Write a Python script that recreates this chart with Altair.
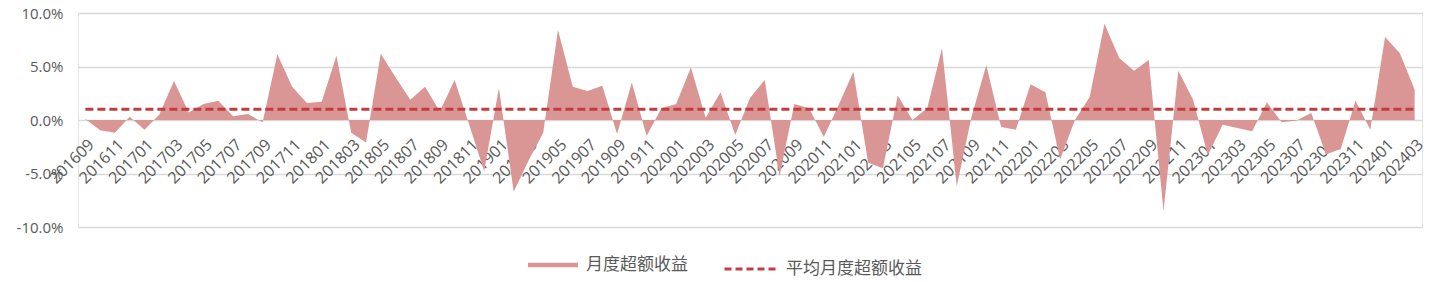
import altair as alt
import pandas as pd

# Categories: months 201609 .. 202403
all_months = [f"{y}{m:02d}" for y in range(2016, 2025) for m in range(1, 13)]
months = all_months[all_months.index("201609"): all_months.index("202403") + 1]

# Monthly excess return (%)
excess = [
    0.1, -0.95, -1.2, 0.3, -0.9, 0.5, 3.65, 0.7, 1.5, 1.8,
    0.35, 0.55, -0.2, 6.15, 3.1, 1.6, 1.7, 6.0, -1.2, -2.1,
    6.2, 4.0, 1.9, 3.1, 0.8, 3.75, -0.5, -4.8, 3.0, -6.7,
    -3.8, -1.2, 8.4, 3.1, 2.7, 3.2, -1.3, 3.5, -1.5, 1.1,
    1.5, 4.9, 0.2, 2.6, -1.4, 2.05, 3.75, -5.25, 1.5, 1.1,
    -1.6, 1.4, 4.5, -4.0, -4.5, 2.3, 0.0, 1.1, 6.7, -6.2,
    0.3, 5.15, -0.65, -0.9, 3.35, 2.6, -3.7, 0.0, 2.15, 9.0,
    5.8, 4.6, 5.6, -8.5, 4.6, 1.9, -3.3, -0.45, -0.75, -1.05,
    1.65, -0.2, -0.05, 0.65, -3.2, -2.7, 1.8, -0.9, 7.75, 6.25,
    2.85,
]
AVG = 1.0  # average monthly excess return (%)

tick_labels = months[::2]
y_ticks = [-10, -5, 0, 5, 10]

SERIES_AREA = "月度超额收益"
SERIES_LINE = "平均月度超额收益"

df = pd.DataFrame({
    "month": months,
    "excess": excess,
    "avg": [AVG] * len(months),
    "s_area": [SERIES_AREA] * len(months),
    "s_line": [SERIES_LINE] * len(months),
})

AREA_COLOR = "#D99694"
LINE_COLOR = "#C53C3C"
TEXT_COLOR = "#595959"

x_enc = alt.X(
    "month:N",
    sort=months,
    scale=alt.Scale(type="point", padding=0.5),
    axis=alt.Axis(
        values=tick_labels,
        labelAngle=-45,
        labelAlign="right",
        labelBaseline="top",
        labelPadding=16,
        labelFontSize=16,
        labelOverlap=False,
        labelBound=False,
        offset=-107,
        domain=False,
        ticks=False,
        grid=False,
        title=None,
    ),
)

y_scale = alt.Scale(domain=[-10, 10], nice=False)

area = alt.Chart(df).mark_area(strokeWidth=0, opacity=1).encode(
    x=x_enc,
    y=alt.Y(
        "excess:Q",
        scale=y_scale,
        axis=alt.Axis(
            values=y_ticks,
            labelExpr="(datum.value < 0 ? '-' : '') + format(abs(datum.value), '.1f') + '%'",
            labelPadding=15,
            ticks=False,
            domain=False,
            grid=True,
            title=None,
        ),
    ),
    y2=alt.datum(0),
    fill=alt.Fill(
        "s_area:N",
        scale=alt.Scale(domain=[SERIES_AREA], range=[AREA_COLOR]),
        legend=alt.Legend(
            title=None,
            orient="none",
            legendX=450,
            legendY=227,
            symbolType="M-1,-0.09H1V0.09H-1Z",
            symbolSize=2500,
            symbolStrokeWidth=0,
            symbolOpacity=1,
            labelOffset=8,
        ),
    ),
)

line = alt.Chart(df).mark_line(strokeDash=[8, 4], strokeWidth=3).encode(
    x=x_enc,
    y=alt.Y("avg:Q", scale=y_scale, title=None),
    stroke=alt.Stroke(
        "s_line:N",
        scale=alt.Scale(domain=[SERIES_LINE], range=[LINE_COLOR]),
        legend=alt.Legend(
            title=None,
            orient="none",
            legendX=645,
            legendY=227,
            symbolType="stroke",
            symbolSize=3025,
            symbolStrokeWidth=3,
            symbolDash=[7, 4],
            labelOffset=5,
        ),
    ),
)

chart = (
    alt.layer(area, line)
    .properties(
        width=1344,
        height=214,
        autosize=alt.AutoSizeParams(type="none"),
        padding={"left": 78, "top": 13, "right": 12, "bottom": 58},
    )
    .configure_view(stroke="#E3E3E3", strokeWidth=1)
    .configure_axis(
        labelFont="Open Sans",
        labelFontSize=15,
        labelColor=TEXT_COLOR,
        gridColor="#D9D9D9",
        gridWidth=1.5,
    )
    .configure_legend(
        labelFont="Noto Sans CJK SC",
        labelFontSize=17,
        labelColor=TEXT_COLOR,
        padding=0,
    )
)

chart.save("out.html", embed_options={"renderer": "svg", "actions": False})
